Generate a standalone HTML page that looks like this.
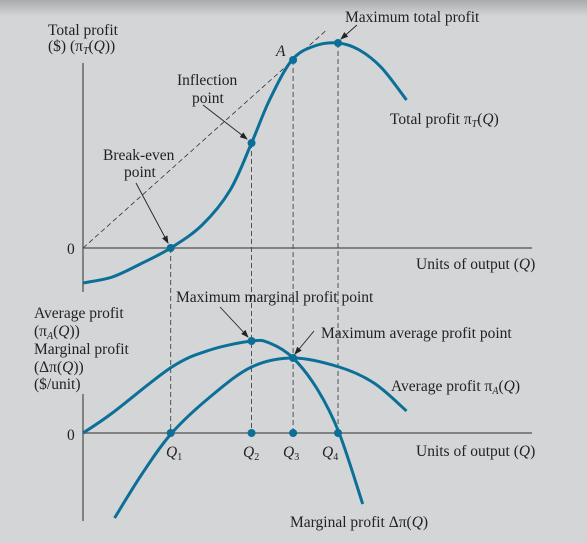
<!DOCTYPE html>
<html><head><meta charset="utf-8"><style>
html,body{margin:0;padding:0;}
body{width:587px;height:543px;overflow:hidden;background:#d3d5d7;}
svg{display:block;}
text{font-family:"Liberation Serif",serif;font-size:15.5px;fill:#222;}
</style></head><body>
<svg id="chart" width="587" height="543" viewBox="0 0 587 543">
<defs>
<linearGradient id="topg" x1="0" y1="0" x2="0" y2="1"><stop offset="0" stop-color="#a9abad"/><stop offset="1" stop-color="#d3d5d7"/></linearGradient>
<marker id="arr" markerWidth="8" markerHeight="8" refX="7" refY="4" orient="auto" markerUnits="userSpaceOnUse"><path d="M0,1 L8,4 L0,7 Z" fill="#222"/></marker>
</defs>
<rect x="0" y="0" width="587" height="16" fill="url(#topg)"/>
<g id="g"></g>
<g id="labels">
<text x="48" y="35">Total profit</text>
<text x="48" y="51">($) (π<tspan font-size="10" dy="3" font-style="italic">T</tspan><tspan dy="-3">(</tspan><tspan font-style="italic">Q</tspan>))</text>
<text x="345" y="22">Maximum total profit</text>
<text x="276" y="56" font-style="italic">A</text>
<text x="177" y="85">Inflection</text>
<text x="192" y="103">point</text>
<text x="103" y="160">Break-even</text>
<text x="124" y="177">point</text>
<text x="390" y="124">Total profit π<tspan font-size="10" dy="3" font-style="italic">T</tspan><tspan dy="-3">(</tspan><tspan font-style="italic">Q</tspan>)</text>
<text x="67" y="254">0</text>
<text x="416" y="269">Units of output (<tspan font-style="italic">Q</tspan>)</text>
<text x="176" y="302">Maximum marginal profit point</text>
<text x="34" y="318">Average profit</text>
<text x="34" y="336">(π<tspan font-size="10" dy="3" font-style="italic">A</tspan><tspan dy="-3">(</tspan><tspan font-style="italic">Q</tspan>))</text>
<text x="34" y="354">Marginal profit</text>
<text x="34" y="372">(Δπ(<tspan font-style="italic">Q</tspan>))</text>
<text x="34" y="389">($/unit)</text>
<text x="321" y="338">Maximum average profit point</text>
<text x="391" y="391">Average profit π<tspan font-size="10" dy="3" font-style="italic">A</tspan><tspan dy="-3">(</tspan><tspan font-style="italic">Q</tspan>)</text>
<text x="67" y="440">0</text>
<text x="166" y="457"><tspan font-style="italic">Q</tspan><tspan font-size="10" dy="3">1</tspan></text>
<text x="243" y="457"><tspan font-style="italic">Q</tspan><tspan font-size="10" dy="3">2</tspan></text>
<text x="283" y="457"><tspan font-style="italic">Q</tspan><tspan font-size="10" dy="3">3</tspan></text>
<text x="322" y="457"><tspan font-style="italic">Q</tspan><tspan font-size="10" dy="3">4</tspan></text>
<text x="416" y="456">Units of output (<tspan font-style="italic">Q</tspan>)</text>
<text x="290" y="527">Marginal profit Δπ(<tspan font-style="italic">Q</tspan>)</text>
</g>
</svg>
<script>
// data (q = units of output, values in chart units)
const totalQ = [0, 2.6, 5.1, 7.8, 10.6, 13.1, 15, 16.6, 18.6, 20.6, 22.7, 24.6, 26.6, 28.8];
const totalP = [-17.5, -14.5, -8, 0, 11.5, 29, 52.5, 74, 94, 101, 102.5, 99, 90, 74];
const marginalQ = [0, 2.6, 7.9, 11.3, 15, 16.6, 18.7, 20.9, 22.8, 24.9];
const marginalV = [0, 10, 33, 41.5, 46, 45, 37.5, 21.5, 0, -35.5];
const averageQ = [2.8, 5.3, 7.9, 11.3, 15, 18.7, 22.8, 25.9, 28.8];
const averageV = [-42.5, -20, 0, 18, 33, 37.5, 33, 25, 11];
const keyQ = [7.8, 15, 18.7, 22.7];          // Q1..Q4
const keyTotal = [0, 52.5, 94, 102.5];       // total profit at those Q
const keyBottom = [0, 0, 0, 0];
const maxMarginal = [15, 46];
const maxAverage = [18.7, 37.5];

const X = q => 83.1 + q * 11.23;
const YT = p => 248 - p * 2;
const YB = v => 433 - v * 2;
const NS = 'http://www.w3.org/2000/svg';
const g = document.getElementById('g');
function mk(tag, attrs) { const e = document.createElementNS(NS, tag); for (const k in attrs) e.setAttribute(k, attrs[k]); g.appendChild(e); return e; }
function smooth(pts) {
  let d = 'M' + pts[0][0] + ',' + pts[0][1];
  for (let i = 0; i < pts.length - 1; i++) {
    const p0 = pts[i - 1] || pts[i], p1 = pts[i], p2 = pts[i + 1], p3 = pts[i + 2] || p2;
    const c1 = [p1[0] + (p2[0] - p0[0]) / 6, p1[1] + (p2[1] - p0[1]) / 6];
    const c2 = [p2[0] - (p3[0] - p1[0]) / 6, p2[1] - (p3[1] - p1[1]) / 6];
    d += ' C' + c1 + ' ' + c2 + ' ' + p2;
  }
  return d;
}
let e;
// axes
e = mk('line', {x1: 83, y1: 63, x2: 83, y2: 292, stroke: '#666', 'stroke-width': 1.5});
 
e = mk('line', {x1: 83, y1: 248, x2: 532, y2: 248, stroke: '#666', 'stroke-width': 1.5});
 
e = mk('line', {x1: 83, y1: 394, x2: 83, y2: 521, stroke: '#666', 'stroke-width': 1.5});
 
e = mk('line', {x1: 83, y1: 433, x2: 532, y2: 433, stroke: '#666', 'stroke-width': 1.5});
 
// tangent ray from origin through A
e = mk('line', {x1: X(0), y1: YT(0), x2: X(0) + (X(keyQ[2]) - X(0)) * 1.16, y2: YT(0) + (YT(keyTotal[2]) - YT(0)) * 1.16, stroke: '#333', 'stroke-width': 0.8, 'stroke-dasharray': '5,3'});
 
// dashed verticals
keyQ.forEach((q, i) => {
  const l = mk('line', {x1: X(q), y1: YT(keyTotal[i]), x2: X(q), y2: YB(0), stroke: '#444', 'stroke-width': 0.9, 'stroke-dasharray': '5,3'});
  
  
});
// curves
e = mk('path', {d: smooth(totalQ.map((q, i) => [X(q), YT(totalP[i])])), fill: 'none', stroke: '#0b6f97', 'stroke-width': 3});
 
e = mk('path', {d: smooth(marginalQ.map((q, i) => [X(q), YB(marginalV[i])])), fill: 'none', stroke: '#0b6f97', 'stroke-width': 3});
 
e = mk('path', {d: smooth(averageQ.map((q, i) => [X(q), YB(averageV[i])])), fill: 'none', stroke: '#0b6f97', 'stroke-width': 3});
 
// points
keyQ.forEach((q, i) => {
  const c = mk('circle', {cx: X(q), cy: YT(keyTotal[i]), r: 4, fill: '#0b6f97'});
  
  
  const c2 = mk('circle', {cx: X(q), cy: YB(keyBottom[i]), r: 4, fill: '#0b6f97'});
  
  
});
e = mk('circle', {cx: X(maxMarginal[0]), cy: YB(maxMarginal[1]), r: 4, fill: '#0b6f97'});
 
e = mk('circle', {cx: X(maxAverage[0]), cy: YB(maxAverage[1]), r: 4, fill: '#0b6f97'});
 
// annotation arrows
[[136, 183, 168, 243, 'break-even-arrow'], [203, 105, 247, 139, 'inflection-arrow'], [357, 25, 341, 39, 'max-total-arrow'], [220, 307, 248, 337, 'max-marginal-arrow'], [314, 331, 295, 354, 'max-average-arrow']].forEach(a => {
  const l = mk('line', {x1: a[0], y1: a[1], x2: a[2], y2: a[3], stroke: '#222', 'stroke-width': 0.9, 'marker-end': 'url(#arr)'});
  
  
});
</script>
</body></html>
